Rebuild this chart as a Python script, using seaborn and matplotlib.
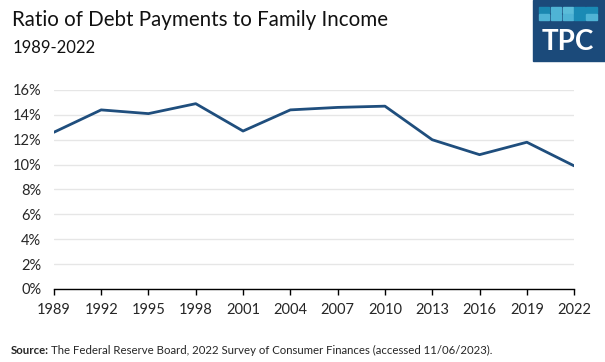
import numpy as np
import pandas as pd
import matplotlib.pyplot as plt
import matplotlib.patches as mpatches
import seaborn as sns

# survey years and debt payments as share of family income (%)
years = [1989, 1992, 1995, 1998, 2001, 2004, 2007, 2010, 2013, 2016, 2019, 2022]
ratio = [12.6, 14.4, 14.1, 14.9, 12.7, 14.4, 14.6, 14.7, 12.0, 10.8, 11.8, 9.9]
y_ticks = [0, 2, 4, 6, 8, 10, 12, 14, 16]

df = pd.DataFrame({'year': years, 'ratio': ratio})

sns.set_style('white')
plt.rcParams['font.family'] = ['Lato', 'DejaVu Sans']

fig = plt.figure(figsize=(6.05, 3.62), dpi=100)
ax = fig.add_axes([0.089, 0.2017, 0.860, 0.5497])

sns.lineplot(data=df, x='year', y='ratio', ax=ax, color='#1f4e7d', linewidth=2.0)

ax.set_xlim(years[0], years[-1])
ax.set_ylim(0, 16)
ax.set_xticks(years)
ax.set_yticks(y_ticks)
ax.set_yticklabels([f'{v}%' for v in y_ticks])
ax.set_xlabel('')
ax.set_ylabel('')
ax.grid(axis='y', color='#e6e6e6', linewidth=1)
ax.set_axisbelow(True)
for s in ['top', 'right', 'left']:
    ax.spines[s].set_visible(False)
ax.spines['bottom'].set_color('black')
ax.spines['bottom'].set_linewidth(1)
ax.tick_params(axis='x', direction='out', length=4, width=1, color='black',
               labelsize=10.5, pad=6, bottom=True)
ax.tick_params(axis='y', length=0, labelsize=10.5, pad=9)

# titles
fig.text(0.02, 0.945, 'Ratio of Debt Payments to Family Income', fontsize=14.8,
         va='center', ha='left', color='#111111')
fig.text(0.02, 0.868, '1989-2022', fontsize=12, va='center', ha='left', color='#111111')

# source
fig.text(0.017, 0.033, 'Source:', fontsize=8.2, fontweight='bold', va='center', ha='left')
fig.text(0.084, 0.033, 'The Federal Reserve Board, 2022 Survey of Consumer Finances (accessed 11/06/2023).',
         fontsize=8.2, va='center', ha='left')

# logo block
W, H = 605, 362
fig.patches.append(mpatches.Rectangle((533 / W, 1 - 61 / H), 72 / W, 61 / H,
                                      transform=fig.transFigure, color='#1b4a7a'))
tile_cols = [['#1a87b0', '#4fb3d5', '#5bbcd9', '#1a8ab5', '#1a8ab5'],
             ['#4fb3d5', '#4fb3d5', '#4fb3d5', '#1a8ab5', '#4fb3d5']]
for r in range(2):
    for c in range(5):
        x0 = (539 + c * 11.8) / W
        y0 = 1 - (7 + r * 7 + 6) / H
        fig.patches.append(mpatches.Rectangle((x0, y0), 10.4 / W, 6 / H,
                                              transform=fig.transFigure,
                                              color=tile_cols[r][c]))
fig.text(568 / W, 1 - 42 / H, 'TPC', fontsize=20, fontweight='bold', color='white',
         ha='center', va='center')

fig.savefig('out.png', dpi=100)
